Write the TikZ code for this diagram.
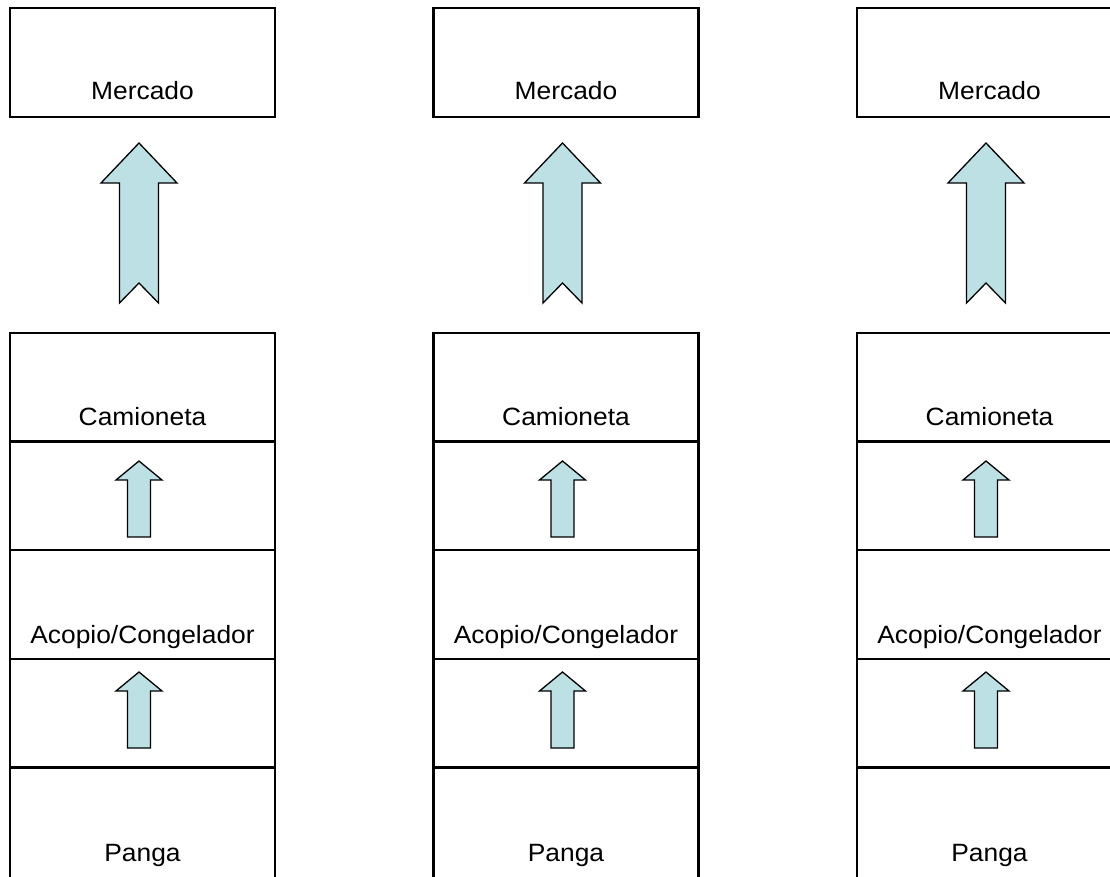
\documentclass[tikz,border=0pt]{standalone}
\usepackage{fontspec}
\setmainfont{Liberation Sans}
\usetikzlibrary{calc}
\definecolor{arrowfill}{RGB}{188,224,228}
\begin{document}
\begin{tikzpicture}[x=1pt,y=-1pt,
  box/.style={draw=black,line width=2.4pt,minimum width=265pt,minimum height=109pt,inner sep=0pt,outer sep=0pt},
  lbl/.style={anchor=base,font=\fontsize{25}{30}\selectfont,xscale=1.055,transform shape,inner sep=0pt},
  blk/.style={draw=black,line width=1.3pt,fill=arrowfill,line join=miter}]
\useasboundingbox (0,0) rectangle (1110,877);
\clip (0,0) rectangle (1110,877);
\foreach \c/\cx in {1/142.5,2/566,3/989.5}{
  \pgfmathsetmacro{\ax}{\cx-3.5}
  % boxes
  \node[box] (m\c) at (\cx,62.5) {};
  \node[box,minimum height=108.6pt] (k\c) at (\cx,387.3) {};
  \node[box,minimum height=108.6pt] (g\c) at (\cx,495.9) {};
  \node[box,minimum height=108.6pt] (a\c) at (\cx,604.5) {};
  \node[box,minimum height=108.6pt] (h\c) at (\cx,713.1) {};
  \node[box,minimum height=113pt] (p\c) at (\cx,823.5) {};
  % labels
  \node[lbl] (lm\c) at ($(m\c.south)+(0,-17)$) {Mercado};
  \node[lbl] (lk\c) at ($(k\c.south)+(0,-15.7)$) {Camioneta};
  \node[lbl] (la\c) at ($(a\c.south)+(0,-15.7)$) {Acopio/Congelador};
  \node[lbl] (lp\c) at ($(p\c.south)+(0,-19)$) {Panga};
  % big block arrow
  \draw[blk] (\ax,143) -- ({\ax+38},183) -- ({\ax+19.5},183) -- ({\ax+19.5},303)
     -- (\ax,283) -- ({\ax-19.5},303) -- ({\ax-19.5},183) -- ({\ax-38},183) -- cycle;
  % small block arrows
  \foreach \dy in {0,211}{
    \draw[blk] (\ax,{461+\dy}) -- ({\ax+23},{480+\dy}) -- ({\ax+11.5},{480+\dy})
       -- ({\ax+11.5},{537+\dy}) -- ({\ax-11.5},{537+\dy}) -- ({\ax-11.5},{480+\dy})
       -- ({\ax-23},{480+\dy}) -- cycle;
  }
}
\end{tikzpicture}
\end{document}
